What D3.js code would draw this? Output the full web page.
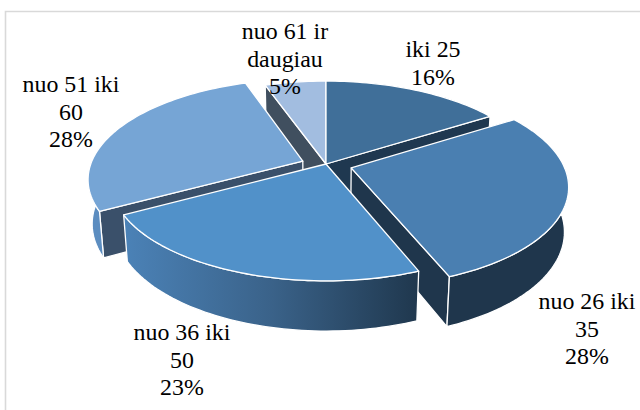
<!DOCTYPE html>
<html><head><meta charset="utf-8">
<script src="https://cdn.jsdelivr.net/npm/d3@7/dist/d3.min.js"></script>
<style>html,body{margin:0;background:#fff}svg{display:block}text{font-family:"Liberation Serif",serif;font-size:23.9px;fill:#000}</style>
</head><body><svg width="640" height="410"></svg>
<script>
const categories=["iki 25","nuo 26 iki 35","nuo 36 iki 50","nuo 51 iki 60","nuo 61 ir daugiau"];
const sliceValues=[16,28,23,27.6,5.4];
const percentLabels=["16%","28%","23%","28%","5%"];
const labelLines=[["iki 25"],["nuo 26 iki","35"],["nuo 36 iki","50"],["nuo 51 iki","60"],["nuo 61 ir","daugiau"]];
const labelX=[433,587,182,71,285];
const labelY=[57,309,340,92,39];
const topColors=["#406f99","#4a7fb1","#5191c9","#76a5d5","#a2bde0"];
const faceColors=["#1f3850","#1f364c","#2a4a68","#3a506a","#404f5f"];
const wallColors=["#1f3850","#1f364c","url(#g3)","#5c8dc0","#404f5f"];
const explodeU=[0,0.118,0,-0.11,0];
const explodeV=[0,-0.04,0,0.03,0];
const paintOrder=[4,0,3,1,2];

const svg=d3.select("svg");
const K=0.17,KZ=0.017,A=212,B=97,D=44.5,CX=326,CY=164;
const sx=d3.scaleLinear().domain([-1,1]).range([CX-A,CX+A]);
const sy=d3.scaleLinear().domain([-1,1]).range([CY+B,CY-B]);
function proj(u,v,z){const w=1+K*v+(z?KZ:0);return [sx(u/w),sy(v/w)+(z?D/w:0)];}
const arcs=d3.pie().sort(null)(sliceValues);
const line=d3.line();

const defs=svg.append("defs");
const g=defs.append("linearGradient").attr("id","g3").attr("gradientUnits","userSpaceOnUse")
 .attr("x1",124).attr("x2",420).attr("y1",0).attr("y2",0);
g.append("stop").attr("offset",0).attr("stop-color","#4b82b7");
g.append("stop").attr("offset",0.5).attr("stop-color","#3a6289");
g.append("stop").attr("offset",1).attr("stop-color","#1f374d");

svg.append("path").attr("d","M640,11.5H5.5V410").attr("fill","none").attr("stroke","#d9d9d9").attr("stroke-width",1.6);

function rim(t0,t1,i,z){
  const n=Math.max(8,Math.round((t1-t0)*40));
  return d3.range(n+1).map(k=>{
    const t=t0+(t1-t0)*k/n;
    return proj(Math.sin(t)+explodeU[i],Math.cos(t)+explodeV[i],z);
  });
}
paintOrder.forEach(i=>{
  const a=arcs[i],s=a.startAngle,e=a.endAngle;
  const top=rim(s,e,i,false);
  const c0=proj(explodeU[i],explodeV[i],false),c1=proj(explodeU[i],explodeV[i],true);
  const G=svg.append("g").attr("stroke","#fff").attr("stroke-width",1.3).attr("stroke-linejoin","round");
  const tip=(t,z)=>proj(Math.sin(t)+explodeU[i],Math.cos(t)+explodeV[i],z);
  if(Math.sin(s)<-1e-6) G.append("path").attr("d",line([c0,tip(s,false),tip(s,true),c1])+"Z").attr("fill",faceColors[i]);
  if(Math.sin(e)>1e-6) G.append("path").attr("d",line([c0,tip(e,false),tip(e,true),c1])+"Z").attr("fill",faceColors[i]);
  const w0=Math.max(s,Math.PI/2),w1=Math.min(e,Math.PI*1.5);
  if(w1>w0){
    const wt=rim(w0,w1,i,false),wb=rim(w0,w1,i,true);
    G.append("path").attr("d",line(wt.concat(wb.slice().reverse()))+"Z").attr("fill",wallColors[i]);
  }
  G.append("path").attr("d",line([c0].concat(top))+"Z").attr("fill",topColors[i]);
});
labelLines.forEach((ls,i)=>{
  ls.concat(percentLabels[i]).forEach((s,j)=>{
    svg.append("text").attr("x",labelX[i]).attr("y",labelY[i]+j*27.5).attr("text-anchor","middle").text(s);
  });
});
</script></body></html>
